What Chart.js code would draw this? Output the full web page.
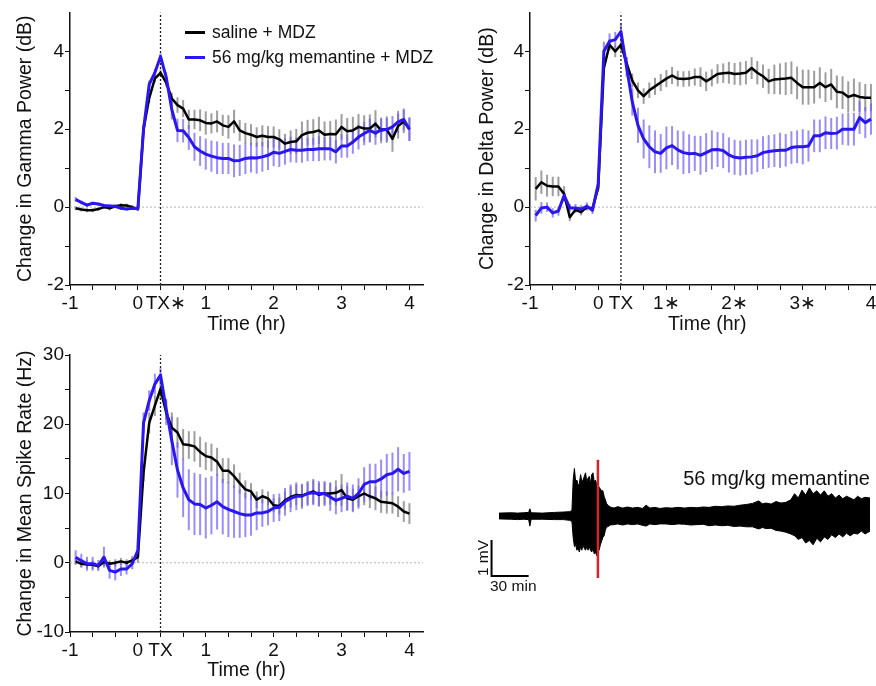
<!DOCTYPE html>
<html>
<head>
<meta charset="utf-8">
<script src="https://cdn.jsdelivr.net/npm/chart.js@4.4.0/dist/chart.umd.min.js"></script>
<style>
  body { margin: 0; background: #fff; overflow: hidden; width: 876px; height: 686px; position: relative;
         font-family: 'Liberation Sans', Arial, sans-serif; color: #111; }
  canvas { position: absolute; }
  .txt { position: absolute; white-space: nowrap; line-height: 1.15; }
  .leg i { display: inline-block; width: 20px; height: 3px; vertical-align: middle; margin-right: 7px; position: relative; top: -1px; }
</style>
</head>
<body>
<canvas id="gamma" width="438" height="340" style="left:0;top:0"></canvas>
<canvas id="delta" width="450" height="340" style="left:440px;top:0"></canvas>
<canvas id="spike" width="438" height="346" style="left:0;top:340px"></canvas>
<canvas id="trace" width="416" height="160" style="left:460px;top:440px"></canvas>

<div class="txt leg" style="left:185px;top:22px;font-size:17.5px"><i style="background:#000"></i>saline + MDZ</div>
<div class="txt leg" style="left:185px;top:47px;font-size:17.5px"><i style="background:#2a16ee"></i>56 mg/kg memantine + MDZ</div>

<div class="txt" style="right:6px;top:467px;font-size:20px">56 mg/kg memantine</div>
<div class="txt" style="left:490px;top:577px;font-size:15.5px">30 min</div>
<div class="txt" style="left:483px;top:558px;font-size:15.5px;transform:translate(-50%,-50%) rotate(-90deg)">1 mV</div>

<script>
// time of each 5-min bin (minutes from injection)
const minutes = [-55, -50, -45, -40, -35, -30, -25, -20, -15, -10, -5, 0,
  5, 10, 15, 20, 25, 30, 35, 40, 45, 50, 55, 60, 65, 70, 75, 80, 85, 90, 95, 100,
  105, 110, 115, 120, 125, 130, 135, 140, 145, 150, 155, 160, 165, 170, 175, 180,
  185, 190, 195, 200, 205, 210, 215, 220, 225, 230, 235, 240];

// gamma power (dB)
const gammaSaline = [-0.03, -0.06, -0.08, -0.08, -0.05, 0.0, -0.03, 0.02, 0.05, 0.04, 0.0, -0.05,
  2.0, 2.8, 3.3, 3.45, 3.2, 2.79, 2.62, 2.53, 2.25, 2.25, 2.23, 2.16, 2.15, 2.2, 2.1, 2.06, 2.2, 1.97,
  1.9, 1.86, 1.8, 1.83, 1.8, 1.8, 1.74, 1.63, 1.67, 1.69, 1.85, 1.91, 1.93, 1.97, 1.86, 1.88, 1.87,
  2.06, 1.95, 1.97, 2.06, 2.02, 2.02, 2.14, 1.97, 1.99, 1.75, 2.08, 2.2, 2.0];
const gammaSalineSem = [0.05, 0.05, 0.05, 0.05, 0.05, 0.05, 0.05, 0.05, 0.05, 0.05, 0.05, 0.05,
  0.12, 0.12, 0.1, 0.08, 0.1, 0.15, 0.2, 0.22, 0.25, 0.25,
  0.28, 0.3, 0.26, 0.28, 0.27, 0.3, 0.3, 0.27, 0.26, 0.27, 0.25, 0.27, 0.28, 0.27, 0.26, 0.25, 0.3,
  0.32, 0.35, 0.33, 0.33, 0.35, 0.34, 0.33, 0.38, 0.33, 0.34, 0.35, 0.33, 0.34, 0.36, 0.35, 0.33,
  0.34, 0.33, 0.32, 0.3, 0.3];
const gammaMem = [0.2, 0.12, 0.05, 0.1, 0.08, 0.04, 0.03, 0.02, -0.03, -0.05, -0.03, -0.04,
  2.0, 3.15, 3.45, 3.87, 3.34, 2.5, 1.97, 1.96, 1.79, 1.55, 1.44, 1.36, 1.31, 1.27, 1.25, 1.25, 1.19,
  1.2, 1.25, 1.27, 1.26, 1.29, 1.33, 1.41, 1.38, 1.43, 1.48, 1.46, 1.46, 1.48, 1.48, 1.5, 1.5, 1.5,
  1.42, 1.57, 1.57, 1.67, 1.8, 1.89, 1.97, 1.9, 1.99, 1.99, 2.06, 2.19, 2.25, 2.0];
const gammaMemSem = [0.06, 0.05, 0.05, 0.04, 0.04, 0.04, 0.04, 0.04, 0.04, 0.04, 0.04, 0.04,
  0.1, 0.1, 0.1, 0.08, 0.12, 0.25, 0.3, 0.3, 0.32, 0.36,
  0.38, 0.4, 0.4, 0.42, 0.4, 0.4, 0.42, 0.4, 0.4, 0.38, 0.4, 0.38, 0.38, 0.36, 0.35, 0.34, 0.33,
  0.32, 0.32, 0.3, 0.3, 0.32, 0.3, 0.3, 0.3, 0.3, 0.3, 0.3, 0.32, 0.3, 0.3, 0.3, 0.28, 0.3, 0.28,
  0.28, 0.28, 0.3];

// delta power (dB)
const deltaSaline = [0.47, 0.64, 0.55, 0.53, 0.53, 0.34, -0.26, -0.07, -0.13, 0.0, -0.04, 0.5,
  3.57, 4.17, 4.0, 4.17, 3.7, 3.25, 3.0, 2.85, 3.0, 3.1, 3.2, 3.3, 3.38, 3.3, 3.29, 3.3, 3.34, 3.34,
  3.23, 3.32, 3.42, 3.44, 3.45, 3.42, 3.43, 3.45, 3.57, 3.45, 3.36, 3.23, 3.28, 3.29, 3.3, 3.32,
  3.19, 3.08, 3.08, 3.08, 3.19, 3.08, 3.15, 2.96, 2.94, 2.83, 2.88, 2.83, 2.81, 2.81];
const deltaSalineSem = [0.3, 0.3, 0.28, 0.25, 0.25, 0.2, 0.1, 0.08, 0.08, 0.08, 0.08, 0.1,
  0.15, 0.15, 0.15, 0.15, 0.15, 0.18, 0.2, 0.2, 0.2, 0.22, 0.22, 0.22, 0.22, 0.2, 0.2, 0.2, 0.22,
  0.25, 0.25, 0.22, 0.25, 0.25, 0.28, 0.28, 0.3, 0.3, 0.28, 0.3, 0.3, 0.32, 0.38, 0.4, 0.42, 0.42,
  0.42, 0.45, 0.45, 0.42, 0.4, 0.38, 0.4, 0.42, 0.42, 0.4, 0.42, 0.38, 0.35, 0.35];
const deltaMem = [-0.22, -0.02, 0.0, -0.15, -0.1, 0.3, -0.02, -0.02, -0.05, 0.02, -0.08, 0.6,
  4.0, 4.26, 4.3, 4.51, 3.6, 2.7, 2.1, 1.75, 1.55, 1.42, 1.38, 1.52, 1.58, 1.47, 1.4, 1.37, 1.38,
  1.33, 1.4, 1.47, 1.48, 1.45, 1.34, 1.28, 1.26, 1.28, 1.29, 1.32, 1.4, 1.43, 1.45, 1.46, 1.46,
  1.53, 1.55, 1.55, 1.57, 1.83, 1.83, 1.91, 1.89, 1.9, 2.0, 2.0, 2.0, 2.3, 2.17, 2.26];
const deltaMemSem = [0.15, 0.15, 0.12, 0.12, 0.12, 0.12, 0.1, 0.1, 0.1, 0.1, 0.1, 0.15,
  0.25, 0.2, 0.2, 0.22, 0.25, 0.35, 0.45, 0.5, 0.55, 0.55, 0.5, 0.55, 0.5, 0.5, 0.55, 0.5, 0.45,
  0.5, 0.5, 0.5, 0.45, 0.45, 0.45, 0.45, 0.45, 0.45, 0.45, 0.42, 0.42, 0.42, 0.42, 0.45, 0.42,
  0.42, 0.42, 0.45, 0.4, 0.42, 0.42, 0.42, 0.4, 0.42, 0.4, 0.42, 0.42, 0.42, 0.4, 0.4];

// mean spike rate (Hz)
const spikeSaline = [0.2, -0.15, -0.25, -0.3, -0.5, 0.1, -0.15, 0.0, 0.2, 0.0, 0.35, 0.8,
  13, 20.2, 22.7, 25.1, 21.7, 19.5, 18.8, 17.1, 17.0, 16.8, 16.0, 15.4, 15.2, 14.6, 13.3, 13.3,
  12.5, 11.5, 10.6, 10.3, 9.1, 9.6, 9.3, 8.3, 8.2, 9.0, 9.5, 9.8, 9.7, 10, 10.3, 9.8, 10, 10, 10.1,
  10.5, 9.3, 9.1, 9.6, 10, 9.6, 9.3, 8.8, 8.7, 8.6, 8.1, 7.4, 7.1];
const spikeSalineSem = [0.5, 0.5, 0.6, 0.6, 0.5, 0.6, 0.5, 0.5, 0.5, 0.5, 0.6, 0.8,
  1.2, 1.5, 1.5, 1.5, 1.8, 2.2, 2.2, 2.2, 2.0, 2.2, 2.2, 2.0, 2.0, 2.0, 1.8, 1.8, 1.7, 1.5, 1.3,
  1.2, 1.2, 1.0, 1.0, 1.0, 1.2, 1.3, 1.5, 1.5, 1.6, 1.6, 1.8, 1.7, 1.6, 1.6, 1.8, 2.3, 1.8, 1.6,
  1.5, 1.7, 1.7, 1.7, 1.6, 1.6, 1.5, 1.5, 1.5, 1.5];
const spikeMem = [0.8, 0.3, -0.15, -0.15, -0.4, 0.8, -1.1, -1.35, -0.9, -0.9, -0.15, 1.8,
  20.2, 23.4, 25.8, 27.1, 22.2, 17.6, 13.4, 10.8, 9.1, 8.5, 8.4, 7.9, 8.3, 8.8, 8.1, 7.7, 7.4, 7.1,
  6.9, 6.9, 7.2, 7.2, 7.4, 7.9, 8.0, 8.8, 9.3, 9.6, 9.6, 10, 10.1, 10, 10, 9.5, 9.0, 9.3, 9.6, 9.3,
  10, 11.3, 11.7, 11.7, 12.1, 12.7, 12.9, 13.5, 12.9, 13.2];
const spikeMemSem = [1.0, 1.0, 1.0, 1.0, 0.8, 1.5, 1.2, 1.2, 1.0, 0.8, 0.8, 1.0,
  1.5, 1.5, 1.5, 1.0, 1.5, 3.5, 4.0, 4.2, 4.4, 4.5, 4.4, 4.4, 4.2, 4.0, 4.0, 4.0, 3.8, 3.5, 3.2,
  3.0, 2.5, 2.0, 2.0, 2.0, 2.0, 2.0, 2.0, 2.0, 1.8, 1.8, 1.8, 1.8, 1.8, 2.0,
  2.0, 2.0, 2.0, 2.0, 2.2, 2.5, 2.6, 2.6, 2.8, 3.0, 3.0, 3.2, 2.8, 2.8];

// axis ticks
const txHour = 20 / 60;
const xTickHours = [-1, -2 / 3, -1 / 3, 0, 1 / 3, 2 / 3, 1, 4 / 3, 5 / 3, 2, 7 / 3, 8 / 3, 3, 10 / 3, 11 / 3, 4];
const gammaXLabels = ['-1', '', '', '0', '\u00a0\u00a0TX\u2217', '', '1', '', '', '2', '', '', '3', '', '', '4'];
const deltaXLabels = ['-1', '', '', '0', 'TX', '', '1\u2217', '', '', '2\u2217', '', '', '3\u2217', '', '', '4'];
const spikeXLabels = ['-1', '', '', '0', 'TX', '', '1', '', '', '2', '', '', '3', '', '', '4'];
const dbTicks = [-2, -1, 0, 1, 2, 3, 4];
const dbLabels = ['-2', '', '0', '', '2', '', '4'];
const hzTicks = [-10, -5, 0, 5, 10, 15, 20, 25, 30];
const hzLabels = ['-10', '', '0', '', '10', '', '20', '', '30'];

// example raw trace, read as upper / lower envelope (mV) over time (min)
const traceMinutes = [-60, -50, -45, -40, -36, -35, -34, -25, -15, -8, -3, -1, 0,
  1, 2, 3, 4, 5, 6, 7, 8, 9, 10, 11, 12, 13, 14, 15, 16, 17, 18, 19, 20, 21, 22, 23, 24, 25, 26, 27, 28,
  30, 33, 36, 40, 44, 48, 52, 56, 59, 62, 66, 70, 75, 80, 85, 90, 95, 100, 105, 110, 115, 120, 125,
  130, 135, 140, 145, 150,
  153, 156, 160, 164, 168, 172, 176, 179, 182, 185, 188, 191, 194, 197, 200, 203, 206, 209, 212,
  215, 218, 221, 224, 227, 230, 233, 236, 240];
const traceHigh = [0.08, 0.09, 0.08, 0.09, 0.1, 0.2, 0.09, 0.08, 0.1, 0.11, 0.12, 0.15, 1.0,
  1.32, 0.95, 1.0, 0.85, 0.9, 1.15, 0.95, 1.0, 1.1, 1.2, 0.95, 1.05, 1.1, 0.9, 1.15, 1.2, 0.95, 1.0,
  0.9, 0.85, 0.8, 0.75, 0.7, 0.7, 0.55, 0.45, 0.35, 0.3,
  0.25, 0.22, 0.26, 0.22, 0.25, 0.22, 0.24, 0.21, 0.3, 0.22, 0.24, 0.21, 0.23, 0.22, 0.24, 0.22,
  0.24, 0.23, 0.25, 0.24, 0.27, 0.26, 0.28, 0.27, 0.3, 0.32, 0.35, 0.42,
  0.34, 0.36, 0.33, 0.4, 0.36, 0.38, 0.45, 0.62, 0.5, 0.72, 0.58, 0.78, 0.62, 0.7, 0.58, 0.7, 0.55,
  0.62, 0.5, 0.58, 0.48, 0.55, 0.5, 0.45, 0.55, 0.48, 0.52, 0.5];
const traceLow = [-0.08, -0.09, -0.1, -0.09, -0.1, -0.28, -0.09, -0.09, -0.1, -0.1, -0.12, -0.15, -0.6,
  -0.85, -0.8, -0.95, -0.9, -1.0, -0.85, -0.95, -0.8, -0.9, -0.95, -0.85, -0.95, -0.85, -0.95, -1.0,
  -0.9, -1.05, -1.0, -1.1, -0.85, -0.95, -0.8, -0.7, -0.6, -0.55, -0.4, -0.3, -0.3,
  -0.25, -0.24, -0.22, -0.25, -0.22, -0.24, -0.22, -0.26, -0.28, -0.22, -0.24, -0.22, -0.22, -0.24,
  -0.22, -0.23, -0.25, -0.24, -0.23, -0.27, -0.25, -0.27, -0.26, -0.29, -0.28, -0.3, -0.3, -0.36,
  -0.32, -0.35, -0.34, -0.4, -0.42, -0.45, -0.5, -0.55, -0.65, -0.6, -0.75, -0.68, -0.8, -0.62, -0.72,
  -0.58, -0.65, -0.52, -0.6, -0.5, -0.58, -0.48, -0.55, -0.48, -0.5, -0.42, -0.5, -0.42];
const txMinutes = 20;
const redLineMv = [1.56, -1.72];
const scaleBarMin = 30;
const scaleBarMv = 1;

Chart.defaults.font.family = "'Liberation Sans', Arial, sans-serif";
Chart.defaults.color = '#111';

// vertical SEM bars, drawn under the lines
const errorBars = {
  id: 'errorBars',
  beforeDatasetsDraw(chart) {
    const { ctx, scales: { x, y } } = chart;
    const sets = chart.data.datasets.slice().reverse();
    sets.forEach(ds => {
      if (!ds.err) return;
      ctx.save();
      ctx.strokeStyle = ds.errColor;
      ctx.lineWidth = 2;
      ds.data.forEach((p, i) => {
        const px = x.getPixelForValue(p.x);
        ctx.beginPath();
        ctx.moveTo(px, y.getPixelForValue(p.y - ds.err[i]));
        ctx.lineTo(px, y.getPixelForValue(p.y + ds.err[i]));
        ctx.stroke();
      });
      ctx.restore();
    });
  }
};

function series(vals) {
  return vals.map((v, i) => ({ x: minutes[i] / 60, y: v }));
}

function panel(id, o) {
  new Chart(document.getElementById(id), {
    type: 'line',
    data: {
      datasets: [
        { data: series(o.mem), err: o.memSem, errColor: 'rgba(108,92,250,0.7)', borderColor: '#2a16ee', borderWidth: 3 },
        { data: series(o.sal), err: o.salSem, errColor: 'rgba(125,125,125,0.75)', borderColor: '#000', borderWidth: 2.5 },
        { data: [{ x: -1, y: 0 }, { x: 4.2, y: 0 }], borderColor: '#b5b5b5', borderWidth: 1, borderDash: [2, 2] },
        { data: [{ x: txHour, y: o.yMin }, { x: txHour, y: o.yMax }], borderColor: '#222', borderWidth: 1.3, borderDash: [2, 2] }
      ]
    },
    options: {
      responsive: false,
      animation: false,
      events: [],
      layout: { padding: o.pad },
      elements: { point: { radius: 0 }, line: { tension: 0, borderJoinStyle: 'round' } },
      plugins: { legend: { display: false }, tooltip: { enabled: false } },
      scales: {
        x: {
          type: 'linear', min: -1, max: 4.2,
          afterBuildTicks: s => { s.ticks = xTickHours.map(v => ({ value: v })); },
          afterFit: s => { s.height = o.xH; },
          ticks: { autoSkip: false, maxRotation: 0, padding: 2, font: { size: 19 }, color: '#111',
                   callback: (v, i) => o.xLabels[i] },
          grid: { drawOnChartArea: false, tickLength: 5, color: '#111' },
          border: { color: '#111', width: 1.5 },
          title: { display: true, text: 'Time (hr)', font: { size: 19.5 }, color: '#111', padding: { top: 0, bottom: 4 } }
        },
        y: {
          min: o.yMin, max: o.yMax,
          afterBuildTicks: s => { s.ticks = o.yTicks.map(v => ({ value: v })); },
          afterFit: s => { s.width = o.yW; },
          ticks: { autoSkip: false, padding: 1, font: { size: 19 }, color: '#111',
                   callback: (v, i) => o.yLabels[i] },
          grid: { drawOnChartArea: false, tickLength: 5, color: '#111' },
          border: { color: '#111', width: 1.5 },
          title: { display: true, text: o.yTitle, font: { size: 19.5 }, color: '#111', padding: { top: o.titlePad, bottom: 0 } }
        }
      }
    },
    plugins: [errorBars]
  });
}

panel('gamma', {
  sal: gammaSaline, salSem: gammaSalineSem, mem: gammaMem, memSem: gammaMemSem,
  xLabels: gammaXLabels, yTicks: dbTicks, yLabels: dbLabels, yMin: -2, yMax: 5,
  yTitle: 'Change in Gamma Power (dB)', yW: 70, xH: 55, titlePad: 14,
  pad: { top: 10, right: 15, left: 0, bottom: 0 }
});

panel('delta', {
  sal: deltaSaline, salSem: deltaSalineSem, mem: deltaMem, memSem: deltaMemSem,
  xLabels: deltaXLabels, yTicks: dbTicks, yLabels: dbLabels, yMin: -2, yMax: 5,
  yTitle: 'Change in Delta Power (dB)', yW: 90, xH: 55, titlePad: 36,
  pad: { top: 10, right: 5.4, left: 0, bottom: 0 }
});

panel('spike', {
  sal: spikeSaline, salSem: spikeSalineSem, mem: spikeMem, memSem: spikeMemSem,
  xLabels: spikeXLabels, yTicks: hzTicks, yLabels: hzLabels, yMin: -10, yMax: 30,
  yTitle: 'Change in Mean Spike Rate (Hz)', yW: 70, xH: 54, titlePad: 14,
  pad: { top: 15, right: 15, left: 0, bottom: 0 }
});

// raw trace panel
const barX = -66, barY = -1.67;
new Chart(document.getElementById('trace'), {
  type: 'line',
  data: {
    datasets: [
      { data: [{ x: txMinutes, y: redLineMv[0] }, { x: txMinutes, y: redLineMv[1] }],
        borderColor: '#d8232a', borderWidth: 2.5, clip: false },
      { data: [{ x: barX, y: barY + scaleBarMv }, { x: barX, y: barY }, { x: barX + scaleBarMin, y: barY }],
        borderColor: '#000', borderWidth: 2, borderJoinStyle: 'miter', clip: false },
      { data: traceMinutes.map((t, i) => ({ x: t, y: traceHigh[i] })),
        borderColor: '#000', borderWidth: 1, fill: '+1', backgroundColor: '#000' },
      { data: traceMinutes.map((t, i) => ({ x: t, y: traceLow[i] })),
        borderColor: '#000', borderWidth: 1 }
    ]
  },
  options: {
    responsive: false,
    animation: false,
    events: [],
    layout: { padding: { left: 26.6, right: 6, top: 4, bottom: 12 } },
    elements: { point: { radius: 0 }, line: { tension: 0 } },
    plugins: { legend: { display: false }, tooltip: { enabled: false } },
    scales: {
      x: { type: 'linear', display: false, min: -70, max: 240 },
      y: { display: false, min: -2, max: 2 }
    }
  }
});
</script>
</body>
</html>
